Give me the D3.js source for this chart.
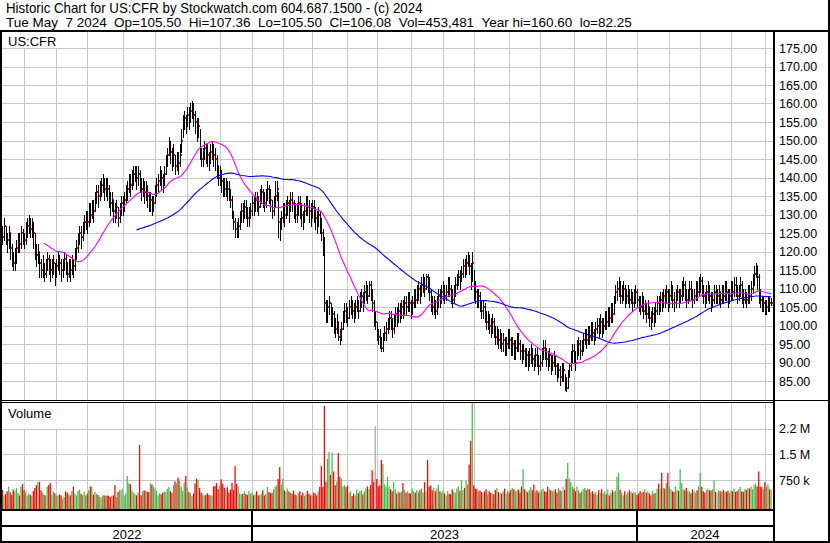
<!DOCTYPE html>
<html><head><meta charset="utf-8">
<script src="https://cdn.jsdelivr.net/npm/d3@7"></script>
<style>
body{margin:0;background:#fff}
svg{display:block}
text{font-family:"Liberation Sans",Arial,sans-serif;fill:#000}
</style>
</head><body><svg id="c" width="830" height="543"></svg>
<script>
const ticker = "US:CFR";
const startDate = "2022-05-09";
const endDate = "2024-05-07";
const holidays = ["2022-05-30","2022-06-20","2022-07-04","2022-09-05","2022-11-24","2022-12-26",
"2023-01-02","2023-01-16","2023-02-20","2023-04-07","2023-05-29","2023-06-19","2023-07-04","2023-09-04","2023-11-23","2023-12-25",
"2024-01-01","2024-01-15","2024-02-19","2024-03-29"];

const closes = [
125,126,124,127,124,123,125,121,119,117,
118,121,123,122,125,124,123,126,127,128,
126,127,125,121,119,120,117,115,116,114,
116,118,117,115,116,117,114,116,118,117,
115,116,118,117,114,116,115,117,116,119,
121,123,125,124,126,128,129,128,131,130,
132,131,134,136,135,137,138,139,137,138,
137,135,133,134,131,130,132,129,131,133,
133,134,136,137,139,138,140,141,142,140,
141,139,137,138,136,137,135,133,134,132,
133,136,138,139,141,140,138,141,144,146,
149,147,145,146,143,145,144,146,150,155,
156,154,157,156,158,159,157,155,152,154,
147,145,146,148,147,146,144,147,148,146,
145,143,140,141,139,138,137,138,137,136,
134,130,128,126,125,127,129,131,130,132,
131,129,130,131,133,132,134,133,132,135,
136,134,133,135,137,136,134,131,133,135,
137,128,126,129,131,130,132,133,131,134,
133,132,130,131,133,132,130,129,131,133,
132,131,130,132,131,129,128,130,128,125,
121,106,103,105,106,101,103,100,99,101,
97,96,99,102,104,103,102,105,106,104,
103,105,106,104,107,108,106,109,110,108,
111,109,106,101,101,98,97,96,94,96,
98,99,100,102,101,99,101,103,102,104,
103,105,104,106,105,107,106,104,106,108,
107,109,110,108,111,112,110,113,112,109,
107,105,106,104,106,108,107,109,110,108,
109,111,110,108,107,109,111,112,113,112,
114,116,115,117,118,116,113,117,110,109,
107,108,106,104,105,103,101,102,100,99,
101,99,97,98,96,96,95,96,94,95,
97,96,94,95,93,94,96,95,93,92,
93,91,92,90,92,93,91,90,92,91,
89,90,92,94,93,91,90,92,89,90,
91,89,87,88,86,88,88,84,83,86,
89,91,93,92,90,94,95,93,94,96,
97,96,98,97,99,98,97,99,100,99,
101,99,100,102,101,103,102,104,103,106,
109,110,111,108,109,110,107,108,109,107,
108,106,108,109,107,106,105,107,104,105,
103,105,102,101,103,102,104,106,105,107,
106,108,107,109,106,108,110,107,106,108,
109,107,108,110,111,109,107,108,110,109,
107,108,110,109,111,112,110,108,107,109,
110,108,106,107,109,108,108,109,107,109,
108,110,109,107,108,110,109,111,110,108,
109,111,108,107,108,107,109,108,110,112,
114,116,113,108,107,105,106,104,105,107,106,106.08];

const highs = [
127,128,127,129,127,125,127,125,122,120,
121,123,125,125,127,126,125,128,129,130,
129,129,128,125,122,122,120,118,119,117,
118,120,119,118,118,119,117,118,120,119,
118,118,120,119,117,118,118,119,118,121,
123,125,127,127,128,130,131,131,133,133,
134,134,136,138,138,139,140,141,140,140,
140,138,136,136,134,133,134,132,133,135,
135,136,138,139,141,141,142,143,143,143,
143,142,140,140,139,139,138,136,136,135,
135,138,140,141,143,142,141,143,146,148,
151,150,148,149,146,147,147,149,153,157,
158,157,159,159,160,160.6,160,158,156,156,
153,148,148,150,149,149,147,149,150,149,
148,146,143,143,142,140,140,140,139,139,
137,135,131,129,128,129,131,133,133,134,
134,132,132,133,135,135,136,136,135,137,
138,137,136,137,139,138,137,134,135,139,
139,136,129,131,133,133,134,135,134,136,
136,134,133,133,135,135,133,131,133,135,
135,134,133,134,134,132,131,132,131,129,
126,124,107,107,108,106,105,104,102,103,
101,99,101,104,106,106,105,107,108,107,
106,107,108,107,109,110,109,111,112,111,
112,112,110,107,104,101,99,99,97,98,
100,101,102,104,104,102,103,105,105,106,
106,107,107,108,108,109,109,107,108,110,
110,111,112,111,113,114,113,114,114,113,
110,108,108,107,108,110,110,111,112,111,
111,113,113,111,110,111,113,114,115,115,
116,118,118,119,120,119,117,120,115,112,
110,110,109,107,107,106,104,104,103,102,
103,102,100,100,99,99,98,98,97,97,
99,99,97,97,96,96,98,98,96,95,
95,94,94,93,94,95,94,92,94,94,
92,92,94,96,96,94,93,94,92,92,
93,92,90,90,89,90,90,87,86,88,
90,93,95,95,93,96,97,96,96,98,
99,99,100,100,101,101,99,101,102,102,
103,102,102,104,104,105,105,106,106,108,
111,112,113,112,111,112,111,110,111,110,
110,109,110,111,110,108,108,109,108,107,
106,107,105,104,105,105,106,108,108,109,
109,110,110,111,110,110,112,111,109,110,
111,110,110,112,113,112,110,110,112,112,
110,110,112,112,113,114,113,111,109,111,
112,111,109,109,111,111,110,111,109,111,
111,112,112,110,110,112,112,113,113,111,
111,113,112,110,110,109,111,111,112,114,
116,117,116,114,110,108,108,107,107,108,108,107.36];

const lows = [
122,124,122,123,122,120,121,118,116,115,
115,117,120,120,121,122,121,122,124,125,
124,124,121,118,116,117,113,113,113,112,
113,115,114,112,113,114,111,113,115,114,
112,113,115,114,112,113,112,114,113,115,
118,120,122,121,123,125,126,125,127,128,
129,128,131,133,132,134,135,136,134,135,
134,132,130,131,128,128,129,127,128,130,
130,131,133,134,136,135,137,138,139,137,
138,136,134,135,133,134,132,131,131,130,
131,133,135,136,138,137,136,138,141,143,
146,144,142,143,141,142,141,143,147,151,
153,152,154,153,155,156,154,152,150,151,
145,143,143,145,144,143,142,144,145,143,
142,140,138,138,136,135,135,135,134,134,
132,129,126,124,124,124,126,128,128,129,
129,127,127,129,130,130,131,131,130,132,
133,132,131,132,134,133,131,129,130,132,
134,124,123,126,128,127,129,130,128,131,
131,129,128,128,130,129,127,126,128,130,
130,128,127,129,128,126,125,127,125,123,
119,104,101,101,103,100,100,98,97,98,
96,95,96,99,101,101,100,102,103,102,
101,102,104,102,104,105,104,106,107,106,
108,107,104,100,99,96,95,94,93,93,
96,96,98,99,99,97,98,100,100,101,
101,102,102,103,103,104,104,102,103,105,
105,106,107,106,108,109,108,110,109,107,
104,103,103,102,103,105,105,106,107,106,
107,108,108,106,105,106,108,110,111,110,
112,113,113,114,116,114,110,112,107,106,
105,105,104,102,102,101,99,99,98,97,
98,97,95,95,94,94,93,93,92,92,
94,94,92,92,91,91,93,93,91,90,
91,89,89,88,89,90,89,88,89,89,
87,88,89,91,91,89,88,89,87,88,
89,87,85,86,84,85,85,82.5,82.25,83,
86,88,90,90,88,91,92,91,92,93,
95,94,95,95,96,96,95,96,98,97,
98,97,98,99,99,100,100,101,101,103,
106,107,108,106,106,107,105,106,106,105,
106,104,105,106,105,104,103,104,102,103,
101,102,100,99,101,100,101,103,103,104,
104,105,105,106,104,105,107,105,104,105,
107,105,106,107,108,107,105,106,107,107,
105,106,107,107,108,109,108,106,105,106,
107,106,104,105,106,106,106,106,105,106,
106,107,107,105,106,107,107,108,108,106,
107,108,106,105,106,105,106,106,107,109,
111,113,110,106,105,104,104,103,103,104,104,105.5];

const lastOpen = 105.50;

// daily volume, thousands of shares
const volumes = [
380,310,460,300,330,420,560,390,310,470,
420,520,370,300,560,630,450,390,300,350,
320,280,430,520,600,690,700,450,380,320,
300,560,600,660,320,420,360,300,290,330,
300,200,250,420,380,330,300,420,560,350,
300,430,470,350,310,410,300,350,450,560,
560,320,400,340,310,260,240,300,300,280,
300,280,250,280,300,600,250,400,450,460,
500,300,350,870,650,630,450,390,340,300,
380,1780,300,420,450,430,410,400,650,620,
560,500,430,300,360,330,380,410,400,490,
550,420,380,600,710,650,820,720,560,440,
680,870,520,400,360,280,360,650,790,750,
520,380,330,300,310,360,310,300,300,560,
580,660,480,590,770,640,520,460,540,380,
470,660,460,1160,640,560,360,330,350,420,
340,310,430,350,380,300,330,420,300,310,
350,450,300,340,550,400,360,380,480,560,
600,780,1130,620,780,450,410,500,420,380,
350,440,320,300,360,420,300,380,290,330,
430,350,300,280,380,360,300,410,550,1160,
550,2920,700,1370,1570,900,1550,1000,600,700,
1550,840,780,560,600,540,590,380,420,280,
350,300,480,360,420,450,330,420,500,560,
480,600,1040,700,2330,780,560,600,1340,1220,
620,560,840,560,480,420,690,480,350,420,
380,420,660,460,380,420,370,350,500,420,
380,460,400,450,500,390,690,420,1340,560,
590,450,520,420,500,600,420,380,440,360,
300,420,350,330,480,400,380,500,560,440,
750,460,520,740,620,1200,1900,3100,600,500,
480,420,440,400,360,420,480,330,420,380,
350,330,460,520,400,380,350,420,500,360,
430,380,460,520,480,420,450,470,380,560,
1070,480,430,390,460,540,450,620,400,450,
380,420,460,500,420,400,560,480,450,420,
440,480,380,520,450,420,560,460,780,1250,
800,690,560,500,420,560,450,380,420,480,
520,450,500,480,380,420,350,400,320,450,
380,480,360,420,330,470,300,360,450,400,
440,840,960,460,380,300,420,330,380,450,
400,360,410,380,310,360,430,380,400,480,
380,420,360,300,440,350,380,500,640,500,
960,520,500,660,960,560,480,420,400,560,
450,430,1070,660,480,450,520,430,420,360,
480,420,380,450,560,960,550,420,380,460,
500,450,440,480,740,400,380,450,420,400,
460,420,400,440,380,450,420,500,400,430,
480,550,420,400,480,460,520,500,560,480,
600,640,560,1000,560,540,480,690,560,620,480,453.481];

const priceTicks = [175,170,165,160,155,150,145,140,135,130,125,120,115,110,105,100,95,90,85];
const volumeTicks = [2250000,1500000,750000];
const volumeTickLabels = ["2.2 M","1.5 M","750 k"];
const maPeriods = [30, 90];
const maColors = ["#ff00ff", "#0000ff"];

const parse = d3.timeParse("%Y-%m-%d");
const hol = new Set(holidays);
const fmtKey = d3.timeFormat("%Y-%m-%d");
const dates = d3.timeDay.range(parse(startDate), d3.timeDay.offset(parse(endDate), 1))
  .filter(d => d.getDay() !== 0 && d.getDay() !== 6 && !hol.has(fmtKey(d)));
const n = dates.length;
if ([closes.length, highs.length, lows.length, volumes.length].some(l => l !== n))
  throw new Error("length mismatch " + [n, closes.length, highs.length, lows.length, volumes.length].join(","));

const data = dates.map((d, i) => ({
  i, date: d, c: closes[i], h: highs[i], l: lows[i], v: volumes[i] * 1000,
  dir: i === 0 ? 1 : Math.sign(closes[i] - closes[i - 1])
}));

const svg = d3.select("#c");
const W = 830, H = 543;
svg.append("rect").attr("width", W).attr("height", H).attr("fill", "#fff");

const plotL = 2, plotR = 773;
const pTop = 32, pBot = 400;
const vTop = 403, vBot = 509;

const x = d3.scaleLinear().domain([0, n - 1]).range([-0.6, 771]);
const y = d3.scaleLinear().domain([85, 175]).range([381, 48]);
const vy = d3.scaleLinear().domain([-100000, 3010000]).range([vBot, vTop]);

const defs = svg.append("defs");
defs.append("clipPath").attr("id", "cp").append("rect").attr("x", plotL).attr("y", pTop).attr("width", plotR - plotL).attr("height", pBot - pTop);
defs.append("clipPath").attr("id", "cv").append("rect").attr("x", plotL).attr("y", vTop).attr("width", plotR - plotL).attr("height", vBot - vTop);

const gridColor = "#c8c8c8";
const grid = svg.append("g").attr("stroke", gridColor).attr("stroke-width", 1).attr("shape-rendering", "crispEdges");

grid.selectAll(".hp").data(priceTicks).join("line")
  .attr("x1", plotL).attr("x2", plotR).attr("y1", d => Math.round(y(d)) + 0.5).attr("y2", d => Math.round(y(d)) + 0.5);
grid.selectAll(".hv").data(volumeTicks).join("line").attr("class", "hv")
  .attr("x1", plotL).attr("x2", plotR).attr("y1", d => Math.round(vy(d)) + 0.5).attr("y2", d => Math.round(vy(d)) + 0.5);

const monthStarts = data.filter((d, i) => i > 0 && d.date.getMonth() !== data[i - 1].date.getMonth());
const yearStarts = monthStarts.filter(d => d.date.getMonth() === 0);
monthStarts.forEach(d => {
  const xx = Math.round(x(d.i)) + 0.5;
  grid.append("line").attr("x1", xx).attr("x2", xx).attr("y1", pTop).attr("y2", pBot);
  grid.append("line").attr("x1", xx).attr("x2", xx).attr("y1", vTop).attr("y2", vBot);
});

function labelBox(txt, y0, y1, base) {
  svg.append("rect").attr("x", plotL).attr("y", y0).attr("width", 56).attr("height", y1 - y0).attr("fill", "#fff");
  svg.append("text").attr("x", 8).attr("y", base).attr("font-size", 13).text(txt);
}
labelBox(ticker, pTop, 48, 46);
labelBox("Volume", vTop, 429, 418);

const gBars = svg.append("g").attr("clip-path", "url(#cp)").attr("shape-rendering", "crispEdges");
const bar = gBars.selectAll("g").data(data).join("g");
bar.append("rect")
  .attr("x", d => Math.round(x(d.i))).attr("width", 1)
  .attr("y", d => Math.round(y(d.h))).attr("height", d => Math.max(1, Math.round(y(d.l)) - Math.round(y(d.h)) + 1))
  .attr("fill", "#000");
bar.append("rect")
  .attr("x", d => Math.round(x(d.i)) + 1).attr("y", d => Math.round(y(d.c)) - 1)
  .attr("width", 1).attr("height", 2).attr("fill", "#ff0000");

const gMA = svg.append("g").attr("clip-path", "url(#cp)");
maPeriods.forEach((p, k) => {
  const pts = data.filter(d => d.i >= p - 1).map(d => ({
    i: d.i, v: d3.mean(closes.slice(d.i - p + 1, d.i + 1))
  }));
  gMA.append("path").datum(pts)
    .attr("d", d3.line().x(d => x(d.i)).y(d => y(d.v)))
    .attr("fill", "none").attr("stroke", maColors[k]).attr("stroke-width", 1.1);
});

const volColor = d => d.dir > 0 ? "#4cb84c" : d.dir < 0 ? "#ff0000" : "#a8a8a8";
svg.append("g").attr("clip-path", "url(#cv)")
  .selectAll("rect").data(data).join("rect")
  .attr("x", d => x(d.i) - 0.6).attr("width", 1.25)
  .attr("y", d => vy(d.v)).attr("height", d => vBot - vy(d.v))
  .attr("fill", volColor);

const blk = svg.append("g").attr("fill", "#000").attr("shape-rendering", "crispEdges");
blk.append("rect").attr("x", 0).attr("y", 30).attr("width", W).attr("height", 2);
blk.append("rect").attr("x", 0).attr("y", 30).attr("width", 2).attr("height", H - 30);
blk.append("rect").attr("x", 828).attr("y", 0).attr("width", 2).attr("height", H);
blk.append("rect").attr("x", plotR).attr("y", 30).attr("width", 2).attr("height", H - 30);
blk.append("rect").attr("x", 0).attr("y", 400).attr("width", plotR).attr("height", 1);
blk.append("rect").attr("x", 0).attr("y", 402).attr("width", plotR).attr("height", 1);
blk.append("rect").attr("x", plotR).attr("y", 400).attr("width", W - plotR).attr("height", 1);
blk.append("rect").attr("x", 0).attr("y", 509).attr("width", plotR).attr("height", 2);
blk.append("rect").attr("x", 0).attr("y", 525).attr("width", plotR).attr("height", 2);
blk.append("rect").attr("x", 0).attr("y", 541).attr("width", W).attr("height", 2);
yearStarts.forEach(d => {
  blk.append("rect").attr("x", Math.round(x(d.i)) - 1).attr("y", 509).attr("width", 2).attr("height", 34);
});

const yearEdges = [plotL, ...yearStarts.map(d => Math.round(x(d.i))), plotR];
const yearNames = [dates[0], ...yearStarts.map(d => d.date)].map(d3.timeFormat("%Y"));
yearNames.forEach((yr, k) => {
  svg.append("text").attr("x", (yearEdges[k] + yearEdges[k + 1]) / 2).attr("y", 539)
    .attr("text-anchor", "middle").attr("font-size", 13).text(yr);
});

svg.selectAll(".pl").data(priceTicks).join("text")
  .attr("x", 779).attr("y", d => y(d) + 4.5).attr("font-size", 12.5)
  .text(d => d3.format(".2f")(d));
svg.selectAll(".vl").data(volumeTicks).join("text")
  .attr("x", 779).attr("y", d => vy(d) + 4.5).attr("font-size", 12.5)
  .text((d, k) => volumeTickLabels[k]);

// header
const last = data[n - 1];
const f2 = d3.format(".2f");
const sp2 = "\u00a0\u00a0";
const header1 = "Historic Chart for " + ticker + " by Stockwatch.com 604.687.1500 - (c) " + d3.timeFormat("%Y")(last.date);
const header2 = d3.timeFormat("%a %b")(last.date) + sp2 + d3.timeFormat("%-d %Y")(last.date) +
  sp2 + "Op=" + f2(lastOpen) + sp2 + "Hi=" + f2(last.h) + sp2 + "Lo=" + f2(last.l) + sp2 + "Cl=" + f2(last.c) +
  sp2 + "Vol=" + d3.format(",")(Math.round(last.v)) + sp2 + "Year hi=" + f2(d3.max(highs)) + sp2 + "lo=" + f2(d3.min(lows));
function headerText(str, yb, fs, targetW, fallback) {
  const g = svg.append("g");
  const t = g.append("text").attr("x", 0).attr("y", 0).attr("font-size", fs).text(str);
  let len = 0;
  try { len = t.node().getComputedTextLength(); } catch (e) { len = 0; }
  let sx = len > 0 ? targetW / len : fallback;
  if (!(sx > 0.8 && sx < 1.5)) sx = fallback;
  g.attr("transform", `translate(6,${yb}) scale(${sx.toFixed(4)},1)`);
}
headerText(header1, 13, 14, 417, 1.1);
headerText(header2, 27, 13.5, 626, 1.0);
</script>
</body></html>
